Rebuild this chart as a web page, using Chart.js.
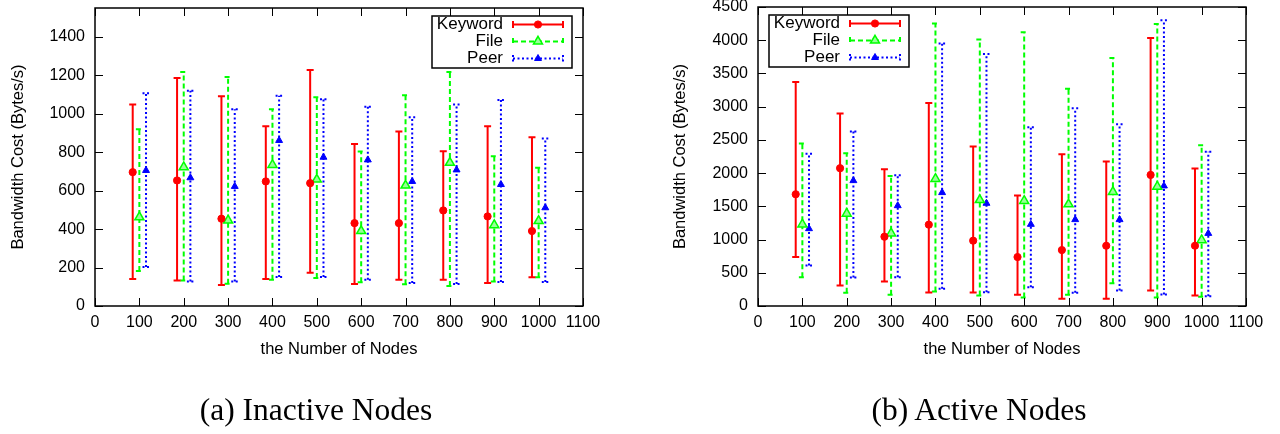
<!DOCTYPE html>
<html><head><meta charset="utf-8">
<script src="https://cdn.jsdelivr.net/npm/chart.js@4.4.0/dist/chart.umd.min.js"></script>
<style>
html,body{margin:0;padding:0;background:#fff;width:1280px;height:434px;overflow:hidden}
.wrap{position:absolute;top:0;width:640px;height:434px}
.cap{position:absolute;font-family:'Liberation Serif','Times New Roman',serif;font-size:31.5px;line-height:36px;top:392px;white-space:nowrap;transform:translateX(-50%);color:#000}
</style></head><body>
<div class="wrap" style="left:0"><canvas id="c1" width="640" height="434"></canvas></div>
<div class="wrap" style="left:640px"><canvas id="c2" width="640" height="434"></canvas></div>
<div class="cap" style="left:316px">(a) Inactive Nodes</div>
<div class="cap" style="left:979px">(b) Active Nodes</div>
<script>
// ---- data ----
const nodes = [100,200,300,400,500,600,700,800,900,1000];
const seriesNames = ['Keyword','File','Peer'];
const xLabel = 'the Number of Nodes';
const yLabel = 'Bandwidth Cost (Bytes/s)';

// (a) Inactive Nodes
const inKeywordMean = [696,653,454,648,639,431,431,497,466,390];
const inKeywordLow  = [140,133,109,140,173,114,137,137,119,149];
const inKeywordHigh = [1048,1186,1091,935,1228,843,907,805,935,878];
const inFileMean = [462,722,445,734,658,390,627,745,421,442];
const inFileLow  = [182,133,116,137,145,123,113,104,128,149];
const inFileHigh = [919,1217,1191,1023,1086,803,1096,1217,779,719];
const inPeerMean = [705,667,622,861,774,760,648,708,632,511];
const inPeerLow  = [203,128,128,151,151,137,119,114,125,125];
const inPeerHigh = [1106,1120,1023,1094,1075,1037,982,1048,1072,871];

// (b) Active Nodes
const acKeywordMean = [1682,2074,1043,1224,983,737,842,907,1973,907];
const acKeywordLow  = [737,309,369,203,203,168,108,108,233,158];
const acKeywordHigh = [3371,2897,2059,3054,2399,1662,2285,2175,4035,2069];
const acFileMean = [1229,1390,1093,1913,1596,1582,1531,1717,1797,992];
const acFileLow  = [434,199,168,219,158,128,168,344,128,138];
const acFileHigh = [2446,2300,1958,4251,4009,4120,3270,3733,4246,2421];
const acPeerMean = [1164,1887,1510,1707,1546,1229,1300,1300,1807,1093];
const acPeerLow  = [610,429,434,259,208,284,199,233,173,148];
const acPeerHigh = [2290,2627,1968,3950,3794,2692,2978,2737,4301,2320];

// ---- styles ----
const FONT = '"Liberation Sans", Arial, Helvetica, sans-serif';
const styles = [
  {color:'#ff0000', dash:[], pointStyle:'circle', radius:3.6, fill:'#ff0000', bw:1, off:-15},
  {color:'#00ff00', dash:[5,3], pointStyle:'triangle', radius:5.2, fill:'#99ff99', bw:1.5, off:0},
  {color:'#0000ff', dash:[2,2.5], pointStyle:'triangle', radius:4, fill:'#0000ff', bw:1, off:15}
];

function makeDatasets(groups){
  return groups.map((g,k)=>{
    const s = styles[k];
    return {
      label: seriesNames[k],
      data: nodes.map((n,i)=>({x:n+s.off, y:g[0][i]})),
      errLow: g[1], errHigh: g[2], errDash: s.dash,
      borderColor: s.color, backgroundColor: s.fill,
      pointStyle: s.pointStyle, pointRadius: s.radius, pointHoverRadius: s.radius,
      pointBackgroundColor: s.fill, pointBorderColor: s.color, pointBorderWidth: s.bw,
      showLine:false
    };
  });
}

const errorBars = {
  id:'errorBars',
  beforeDatasetDraw(chart, args){
    const ds = chart.data.datasets[args.index];
    const xs = chart.scales.x, ys = chart.scales.y, ctx = chart.ctx;
    ctx.save();
    ctx.strokeStyle = ds.borderColor; ctx.lineWidth = 2; ctx.setLineDash(ds.errDash);
    ds.data.forEach((p,i)=>{
      const x = xs.getPixelForValue(p.x);
      const yl = ys.getPixelForValue(ds.errLow[i]), yh = ys.getPixelForValue(ds.errHigh[i]);
      ctx.beginPath();
      ctx.moveTo(x,yl); ctx.lineTo(x,yh);
      ctx.moveTo(x-3.5,yl); ctx.lineTo(x+3.5,yl);
      ctx.moveTo(x-3.5,yh); ctx.lineTo(x+3.5,yh);
      ctx.stroke();
    });
    ctx.restore();
  }
};

const frame = {
  id:'frame',
  afterDatasetsDraw(chart){
    const ca = chart.chartArea, ctx = chart.ctx;
    const xs = chart.scales.x, ys = chart.scales.y;
    ctx.save();
    ctx.strokeStyle='#000'; ctx.lineWidth=1;
    ctx.beginPath();
    xs.ticks.forEach(t=>{
      const x = Math.round(xs.getPixelForValue(t.value))+0.5;
      ctx.moveTo(x,ca.bottom); ctx.lineTo(x,ca.bottom-8);
      ctx.moveTo(x,ca.top); ctx.lineTo(x,ca.top+8);
    });
    ys.ticks.forEach(t=>{
      const y = Math.round(ys.getPixelForValue(t.value))+0.5;
      ctx.moveTo(ca.left,y); ctx.lineTo(ca.left+8,y);
      ctx.moveTo(ca.right,y); ctx.lineTo(ca.right-8,y);
    });
    ctx.stroke();
    ctx.lineWidth=1.5;
    ctx.strokeRect(ca.left, ca.top, ca.right-ca.left, ca.bottom-ca.top);
    ctx.restore();
  }
};

function drawMarker(ctx, ds, x, y){
  ctx.save();
  ctx.setLineDash([]);
  ctx.fillStyle = ds.pointBackgroundColor; ctx.strokeStyle = ds.pointBorderColor; ctx.lineWidth = ds.pointBorderWidth;
  const r = ds.pointRadius;
  ctx.beginPath();
  if (ds.pointStyle === 'circle') {
    ctx.arc(x,y,r,0,Math.PI*2);
  } else {
    for (let k=0;k<3;k++){
      const a = k*2*Math.PI/3;
      const px = x + Math.sin(a)*r, py = y - Math.cos(a)*r;
      if (k===0) ctx.moveTo(px,py); else ctx.lineTo(px,py);
    }
    ctx.closePath();
  }
  ctx.fill(); ctx.stroke();
  ctx.restore();
}

const gpLegend = {
  id:'gpLegend',
  afterDraw(chart, args, opts){
    const ca = chart.chartArea, ctx = chart.ctx;
    const w = 140, h = 52;
    const left = opts.side === 'right' ? ca.right - 11 - w : ca.left + 11;
    const top = ca.top + 8;
    ctx.save();
    ctx.lineWidth = 1.5; ctx.strokeStyle = '#000';
    ctx.strokeRect(left, top, w, h);
    ctx.font = '17px ' + FONT;
    ctx.textAlign = 'right'; ctx.textBaseline = 'middle';
    chart.data.datasets.forEach((ds,i)=>{
      const y = top + 8.5 + i*17;
      ctx.fillStyle = '#000';
      ctx.fillText(ds.label, left + 71, y);
      ctx.strokeStyle = ds.borderColor; ctx.lineWidth = 2; ctx.setLineDash(ds.errDash);
      const x0 = left + 81, x1 = left + 131;
      ctx.beginPath();
      ctx.moveTo(x0,y); ctx.lineTo(x1,y);
      ctx.moveTo(x0,y-3.5); ctx.lineTo(x0,y+3.5);
      ctx.moveTo(x1,y-3.5); ctx.lineTo(x1,y+3.5);
      ctx.stroke();
      drawMarker(ctx, ds, (x0+x1)/2, y);
    });
    ctx.restore();
  }
};

const plainNum = v => String(v);

function makeChart(id, groups, yMax, yStep, yWidth, yTitlePad, pad, legendSide){
  return new Chart(document.getElementById(id), {
    type:'scatter',
    data:{datasets: makeDatasets(groups)},
    plugins:[errorBars, frame, gpLegend],
    options:{
      responsive:false, animation:false, devicePixelRatio:1,
      layout:{padding:pad},
      plugins:{legend:{display:false}, tooltip:{enabled:false}, gpLegend:{side:legendSide}},
      scales:{
        x:{
          type:'linear', min:0, max:1100,
          grid:{display:false, drawTicks:false}, border:{display:false},
          ticks:{stepSize:100, autoSkip:false, maxRotation:0, padding:7, color:'#000', font:{family:FONT, size:16}, callback:plainNum},
          title:{display:true, text:xLabel, color:'#000', font:{family:FONT, size:16.5}, padding:{top:0,bottom:3}},
          afterFit(s){ s.height = 56; s.paddingLeft = 0; s.paddingRight = 0; }
        },
        y:{
          type:'linear', min:0, max:yMax,
          grid:{display:false, drawTicks:false}, border:{display:false},
          ticks:{stepSize:yStep, includeBounds:false, padding:10, color:'#000', font:{family:FONT, size:16}, callback:plainNum},
          title:{display:true, text:yLabel, color:'#000', font:{family:FONT, size:16.5}, padding:{top:yTitlePad,bottom:0}},
          afterFit(s){ s.width = yWidth; s.paddingTop = 0; s.paddingBottom = 0; }
        }
      }
    }
  });
}

makeChart('c1',
  [[inKeywordMean,inKeywordLow,inKeywordHigh],[inFileMean,inFileLow,inFileHigh],[inPeerMean,inPeerLow,inPeerHigh]],
  1550, 200, 95, 9, {left:0,right:57,top:8,bottom:72}, 'right');
makeChart('c2',
  [[acKeywordMean,acKeywordLow,acKeywordHigh],[acFileMean,acFileLow,acFileHigh],[acPeerMean,acPeerLow,acPeerHigh]],
  4500, 500, 118, 31, {left:0,right:34,top:7,bottom:72}, 'left');
</script>
</body></html>
